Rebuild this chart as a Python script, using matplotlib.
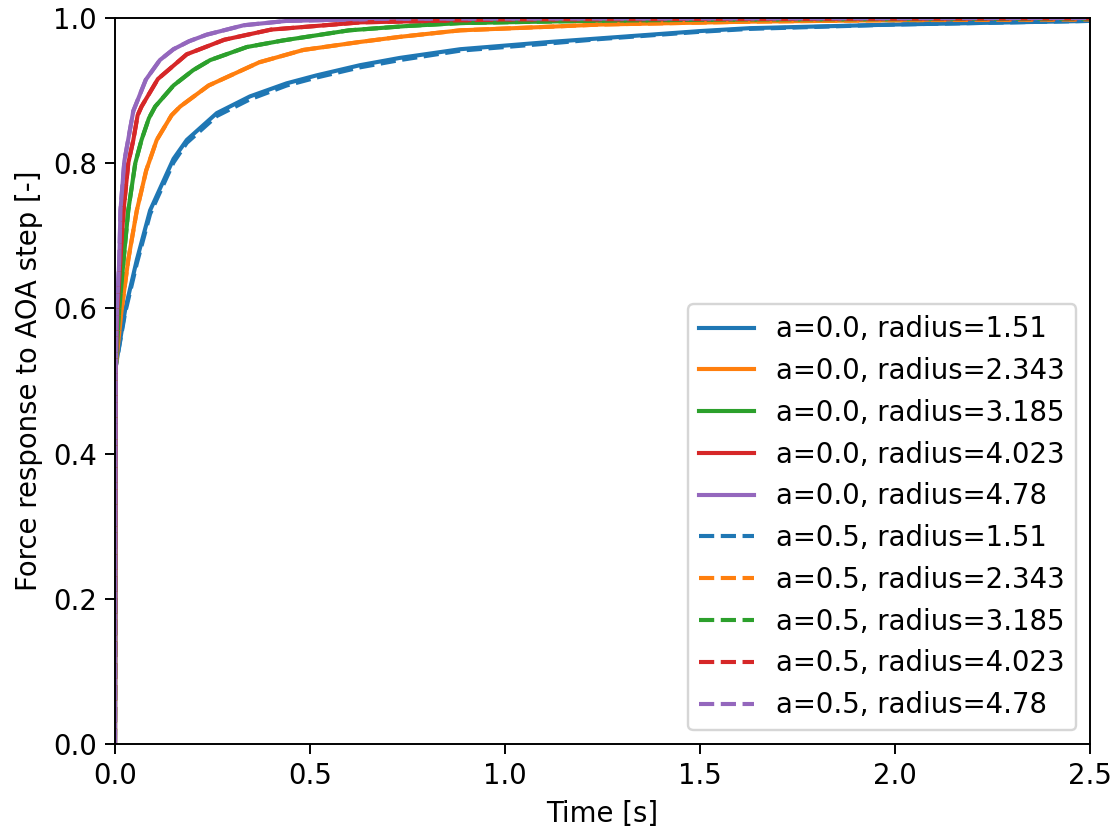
import matplotlib
matplotlib.use("Agg")
import matplotlib.pyplot as plt

radii = [1.51, 2.343, 3.185, 4.023, 4.78]
a_values = [0.0, 0.5]

# values (time [s], response [-])
t_r151 = [0, 0.002, 0.026, 0.056, 0.09, 0.133, 0.15, 0.184, 0.261, 0.346, 0.44, 0.517,
          0.628, 0.73, 0.885, 1.115, 1.244, 1.5, 1.628, 2.0, 2.5]
v_r151 = [0, 0.52, 0.598, 0.667, 0.735, 0.786, 0.806, 0.832, 0.869, 0.892, 0.910, 0.921,
          0.935, 0.945, 0.957, 0.967, 0.972, 0.982, 0.986, 0.991, 0.996]
v_r151_a05 = [0, 0.52, 0.594, 0.662, 0.730, 0.781, 0.801, 0.828, 0.865, 0.888, 0.907, 0.918,
              0.932, 0.942, 0.955, 0.965, 0.971, 0.981, 0.985, 0.991, 0.996]

t_r2343 = [0, 0.002, 0.017, 0.034, 0.056, 0.08, 0.107, 0.145, 0.167, 0.24, 0.37, 0.483,
           0.628, 0.73, 0.885, 1.115, 1.244, 1.628, 2.0, 2.5]
v_r2343 = [0, 0.52, 0.598, 0.667, 0.735, 0.79, 0.832, 0.866, 0.878, 0.907, 0.939, 0.956,
           0.967, 0.974, 0.983, 0.988, 0.991, 0.995, 0.997, 0.998]

t_r3185 = [0, 0.002, 0.011, 0.022, 0.034, 0.052, 0.068, 0.087, 0.103, 0.15, 0.2, 0.244,
           0.338, 0.43, 0.6, 0.75, 0.885, 1.2, 1.6, 2.5]
v_r3185 = [0, 0.52, 0.598, 0.667, 0.735, 0.80, 0.832, 0.862, 0.878, 0.907, 0.928, 0.942,
           0.960, 0.969, 0.983, 0.989, 0.993, 0.996, 0.998, 0.999]

t_r4023 = [0, 0.002, 0.006, 0.014, 0.022, 0.034, 0.047, 0.058, 0.068, 0.11, 0.184, 0.28,
           0.4, 0.63, 1.0, 2.5]
v_r4023 = [0, 0.52, 0.598, 0.667, 0.735, 0.80, 0.832, 0.866, 0.878, 0.916, 0.950, 0.970,
           0.984, 0.994, 0.998, 0.9995]

t_r478 = [0, 0.002, 0.005, 0.011, 0.014, 0.024, 0.047, 0.079, 0.115, 0.15, 0.19, 0.235,
          0.33, 0.44, 0.7, 2.5]
v_r478 = [0, 0.52, 0.598, 0.667, 0.735, 0.803, 0.872, 0.915, 0.942, 0.957, 0.968, 0.977,
          0.990, 0.996, 0.999, 1.0]

# a=0.5 curves sit on top of the a=0.0 ones except for the smallest radius
curves_a00 = [(t_r151, v_r151), (t_r2343, v_r2343), (t_r3185, v_r3185),
              (t_r4023, v_r4023), (t_r478, v_r478)]
curves_a05 = [(t_r151, v_r151_a05), (t_r2343, v_r2343), (t_r3185, v_r3185),
              (t_r4023, v_r4023), (t_r478, v_r478)]

plt.rcParams["font.size"] = 11.4
plt.rcParams["lines.linewidth"] = 1.7
plt.rcParams["xtick.major.size"] = 4
plt.rcParams["ytick.major.size"] = 4

fig = plt.figure(figsize=(1113 / 174, 828 / 174), dpi=174)
ax = fig.add_axes([115 / 1113, 1 - 744 / 828, 975 / 1113, 726 / 828])

for i, (t, v) in enumerate(curves_a00):
    ax.plot(t, v, color=f"C{i}", label=f"a={a_values[0]}, radius={radii[i]}")
for i, (t, v) in enumerate(curves_a05):
    ax.plot(t, v, "--", color=f"C{i}", label=f"a={a_values[1]}, radius={radii[i]}")

ax.set_xlim(0, 2.5)
ax.set_ylim(0, 1.0)
ax.set_xlabel("Time [s]")
ax.set_ylabel("Force response to AOA step [-]")
ax.legend(loc="lower right")

fig.savefig("out.png", dpi=174)
